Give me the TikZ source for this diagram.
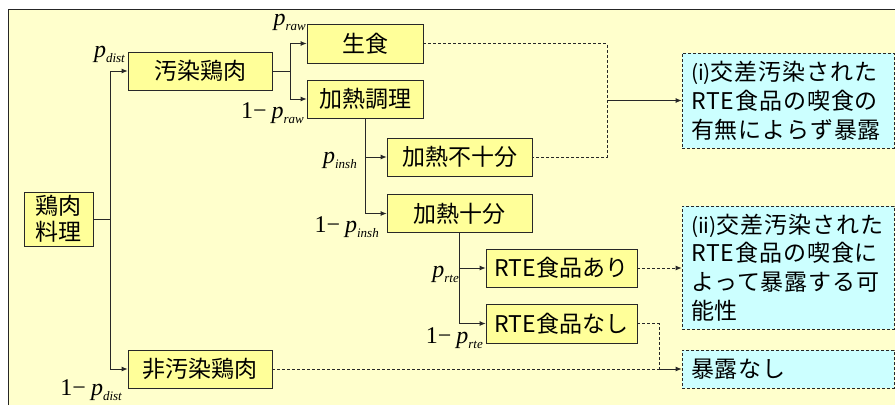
\documentclass[tikz,border=0pt]{standalone}
\usepackage{fontspec}
\setmainfont{Noto Sans CJK JP}
\newfontfamily\tnr{Liberation Serif}
\newfontfamily\jpsp[LetterSpace=4]{Noto Sans CJK JP}
\newfontfamily\jpn{Noto Sans CJK JP}
\usetikzlibrary{arrows.meta}
\definecolor{bgY}{RGB}{255,255,204}
\definecolor{boxY}{RGB}{255,255,153}
\definecolor{boxB}{RGB}{204,255,255}
\definecolor{edgec}{RGB}{40,40,40}
\newcommand{\prob}[1]{{\itshape p\raisebox{-5pt}{\fontsize{13}{13}\selectfont #1}}}
\newcommand{\romidx}[1]{{\jpn\fontsize{21}{21}\selectfont (#1)}}
\begin{document}
\begin{tikzpicture}[x=1pt,y=-1pt,
  ybox/.style={draw=edgec, line width=0.8pt, fill=boxY, inner sep=0pt, align=center,
    font=\fontsize{23}{26}\selectfont},
  bbox/.style={draw=edgec, line width=0.8pt, dash pattern=on 3pt off 2pt, fill=boxB,
    inner xsep=9pt, inner ysep=0pt, text width=194pt, align=left, minimum width=212pt,
    font=\jpsp\fontsize{23}{28.8}\selectfont},
  conn/.style={draw=edgec, line width=0.8pt},
  arr/.style={-{Latex[length=6pt,width=5pt]}},
  dsh/.style={dash pattern=on 3pt off 2pt},
  lbl/.style={anchor=base east, inner sep=0pt, font=\tnr\fontsize{24}{24}\selectfont}
]
\useasboundingbox (0,0) rectangle (895,405);
\fill[white] (0,0) rectangle (895,405);
\fill[bgY] (8,9) rectangle (895,405);
\draw[black!85, line width=1pt] (8,405) -- (8,9) -- (895,9);

% nodes
\node[ybox, minimum width=69pt, minimum height=54pt] (root) at (58.5,219) {鶏肉\\料理};
\node[ybox, minimum width=144pt, minimum height=38pt] (contam) at (200,71) {汚染鶏肉};
\node[ybox, minimum width=144pt, minimum height=38pt] (noncontam) at (200,369) {非汚染鶏肉};
\node[ybox, minimum width=116pt, minimum height=39pt] (raw) at (365,43.5) {生食};
\node[ybox, minimum width=116pt, minimum height=38pt] (cook) at (365,99) {加熱調理};
\node[ybox, minimum width=145pt, minimum height=38pt] (insuf) at (459.5,157) {加熱不十分};
\node[ybox, minimum width=145pt, minimum height=38pt] (suf) at (459.5,213.5) {加熱十分};
\node[ybox, minimum width=151pt, minimum height=38pt] (rteyes) at (561.5,268) {RTE食品あり};
\node[ybox, minimum width=151pt, minimum height=39pt] (rteno) at (561.5,323.5) {RTE食品なし};
\node[bbox, minimum height=95pt] (exp1) at (788,100.5) {\romidx{i}交差汚染された\\RTE食品の喫食の\\有無によらず暴露};
\node[bbox, minimum height=123pt] (exp2) at (788,267.5) {\romidx{ii}交差汚染された\\RTE食品の喫食に\\よって暴露する可\\能性};
\node[bbox, minimum height=38pt] (noexp) at (788,369) {暴露なし};

% junctions
\coordinate (j1) at (110,219);
\coordinate (j2) at (290,71);
\coordinate (j3) at (365.5,157);
\coordinate (j4) at (459,268);
\coordinate (d1t) at (607,43.5);
\coordinate (d1b) at (607,157);
\coordinate (d1m) at (607,100.5);
\coordinate (d2t) at (659,323.5);
\coordinate (d2b) at (659,369);

% solid connectors
\draw[conn] (root.east) -- (j1);
\draw[conn, arr] (j1) |- (contam.west);
\draw[conn, arr] (j1) |- (noncontam.west);
\draw[conn] (contam.east) -- (j2);
\draw[conn, arr] (j2) |- (raw.west);
\draw[conn, arr] (j2) |- (cook.west);
\draw[conn, arr] (cook.south -| j3) |- (insuf.west);
\draw[conn, arr] (j3) |- (suf.west);
\draw[conn, arr] (suf.south -| j4) |- (rteyes.west);
\draw[conn, arr] (j4) |- (rteno.west);

% dashed connectors
\draw[conn, dsh] (raw.east) -- (d1t) -- (d1b) -- (insuf.east);
\draw[conn, arr] (d1m) -- (exp1.west);
\draw[conn, dsh, arr] (rteyes.east) -- (exp2.west |- rteyes.east);
\draw[conn, dsh] (rteno.east) -- (d2t) -- (d2b);
\draw[conn, dsh] (noncontam.east) -- (d2b);
\draw[conn, arr] (d2b) -- (noexp.west);

% probability labels
\node[lbl] (lpdist) at (125,57) {\prob{dist}};
\node[lbl] (lqdist) at (122,395) {1−\hspace{5pt}\prob{dist}};
\node[lbl] (lpraw) at (306,25) {\prob{raw}};
\node[lbl] (lqraw) at (304,118) {1−\hspace{5pt}\prob{raw}};
\node[lbl] (lpinsh) at (357,163) {\prob{insh}};
\node[lbl] (lqinsh) at (379,232) {1−\hspace{5pt}\prob{insh}};
\node[lbl] (lprte) at (459,277) {\prob{rte}};
\node[lbl] (lqrte) at (483,343) {1−\hspace{5pt}\prob{rte}};
\end{tikzpicture}
\end{document}
